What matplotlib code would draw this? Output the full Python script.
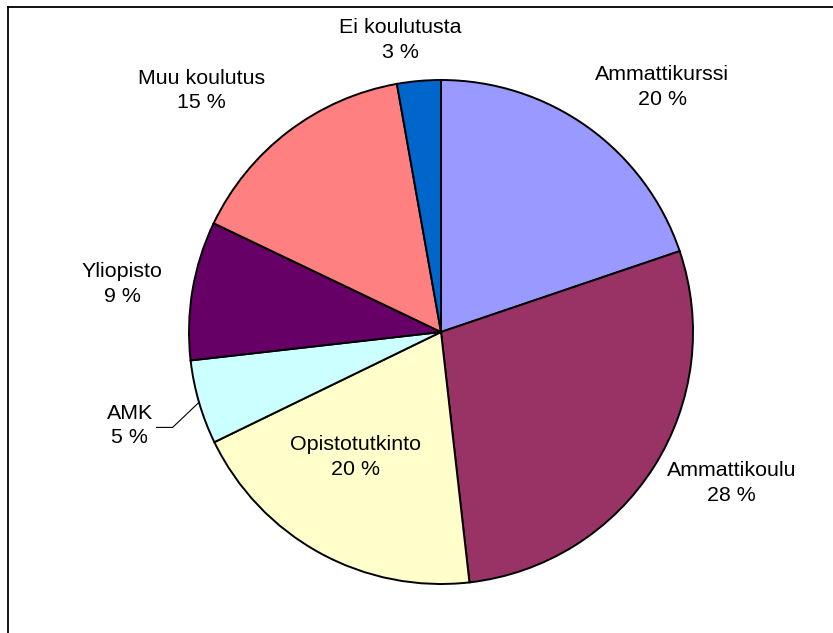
import numpy as np
import matplotlib.pyplot as plt
from matplotlib.lines import Line2D

plt.rcParams['font.family'] = ['Liberation Sans', 'DejaVu Sans']

categories = ["Ammattikurssi", "Ammattikoulu", "Opistotutkinto", "AMK",
              "Yliopisto", "Muu koulutus", "Ei koulutusta"]
values = [19.8, 28.4, 19.6, 5.4, 8.9, 15.1, 2.8]
colors = ["#9999FF", "#993366", "#FFFFCC", "#CCFFFF", "#660066", "#FF8080", "#0066CC"]

# label layout: distance (in radii) and angle nudge (deg, clockwise)
label_dist = [1.31, 1.30, 0.60, 1.29, 1.28, 1.35, 1.17]
label_nudge = [6.4, -5.0, 5.5, -0.5, -1.0, -7.5, -2.9]

W, H = 833, 633
fig = plt.figure(figsize=(W / 100, H / 100), dpi=100)
ax = fig.add_axes([0, 0, 1, 1])

cx, cy, r = 441, H - 332, 252
wedges, _ = ax.pie(values, colors=colors, startangle=90, counterclock=False,
                   center=(cx, cy), radius=r, frame=True,
                   wedgeprops=dict(edgecolor='black', linewidth=1.4))
ax.set_xlim(0, W)
ax.set_ylim(0, H)
ax.set_aspect('equal')
ax.axis('off')

total = sum(values)
for w, name, v, d, n in zip(wedges, categories, values, label_dist, label_nudge):
    mid = (w.theta1 + w.theta2) / 2
    ang = np.deg2rad(mid - n)
    x = cx + d * r * np.cos(ang)
    y = cy + d * r * np.sin(ang)
    ax.text(x, y, "%s\n%.0f %%" % (name, v / total * 100), ha='center', va='center',
            fontsize=15.4, linespacing=1.38, color='black')
    if name == "AMK":
        m = np.deg2rad(mid)
        ex, ey = cx + r * np.cos(m), cy + r * np.sin(m)
        ax.plot([ex, x + 43, x + 27], [ey, y - 2, y - 2], color='black', lw=0.8)

# chart border (only top and left visible)
fig.add_artist(Line2D([8 / W, 1], [1 - 7 / H, 1 - 7 / H], color='black', lw=1.3))
fig.add_artist(Line2D([8 / W, 8 / W], [0, 1 - 7 / H], color='black', lw=1.3))

fig.savefig("out.png", dpi=100)
